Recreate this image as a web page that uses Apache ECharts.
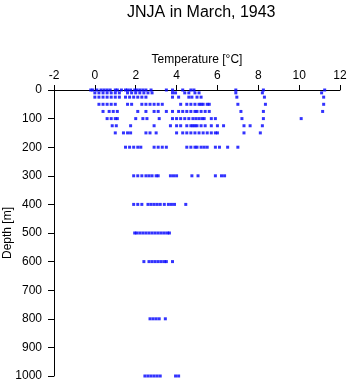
<!DOCTYPE html>
<html>
<head>
<meta charset="utf-8">
<script src="https://cdn.jsdelivr.net/npm/echarts@6/dist/echarts.min.js"></script>
<style>html,body{margin:0;padding:0;background:#fff;}#c{width:348px;height:384px;}</style>
</head>
<body>
<div id="c"></div>
<script>
// Observed temperatures [°C] at each standard depth [m]
const depths = [0, 10, 25, 50, 75, 100, 125, 150, 200, 300, 400, 500, 600, 800, 1000];
const t0    = [-0.2, -0.1, 0.1, 0.3, 0.45, 0.6, 0.75, 1.0, 1.1, 1.3, 1.5, 1.6, 1.75, 1.95, 2.05, 2.2, 2.35, 2.5, 2.75, 3.5, 3.8, 4.3, 4.7, 4.85, 6.9, 8.25, 11.25];
const t10   = [0.0, 0.2, 0.4, 0.6, 0.8, 1.0, 1.2, 1.6, 1.8, 2.0, 2.2, 2.4, 2.6, 2.8, 3.8, 3.95, 4.4, 4.6, 4.9, 5.1, 6.9, 8.2, 11.1];
const t25   = [0.0, 0.2, 0.4, 0.6, 0.8, 1.0, 1.2, 1.5, 1.7, 1.9, 2.1, 2.3, 2.5, 3.8, 4.1, 4.6, 4.75, 5.0, 5.2, 6.95, 8.3, 11.2];
const t50   = [0.2, 0.4, 0.6, 0.8, 1.0, 1.6, 1.8, 2.3, 2.5, 2.7, 2.9, 3.1, 3.3, 4.2, 4.5, 4.7, 4.9, 5.1, 5.2, 5.3, 5.5, 5.6, 7.0, 8.35, 11.2];
const t75   = [0.4, 0.7, 0.9, 1.1, 2.1, 2.5, 2.9, 3.1, 3.5, 3.8, 4.1, 4.3, 4.5, 4.7, 4.9, 5.0, 5.2, 5.4, 5.6, 7.15, 8.25, 11.15];
const t100  = [0.6, 0.8, 1.0, 1.1, 2.0, 2.35, 2.55, 3.15, 3.8, 4.0, 4.2, 4.4, 4.6, 4.8, 4.95, 5.1, 5.25, 5.35, 5.7, 5.9, 7.2, 8.25, 10.1];
const t125  = [0.85, 1.05, 1.75, 2.9, 3.7, 4.0, 4.2, 4.5, 4.7, 4.8, 4.9, 5.0, 5.2, 5.4, 5.7, 6.0, 6.3, 7.3, 7.6, 8.2];
const t150  = [1.0, 1.4, 1.6, 1.75, 2.5, 2.7, 3.0, 4.0, 4.3, 4.5, 4.7, 4.9, 5.1, 5.3, 5.5, 5.7, 5.9, 6.0, 7.3, 8.1];
const t200  = [1.5, 1.7, 1.9, 2.1, 2.25, 2.9, 3.1, 3.3, 3.5, 4.5, 4.7, 4.9, 5.0, 5.2, 5.35, 5.5, 5.9, 6.1, 6.5, 7.0];
const t300  = [1.9, 2.1, 2.3, 2.5, 2.65, 2.8, 3.0, 3.1, 3.7, 3.85, 4.0, 4.75, 5.05, 5.9, 6.2, 6.35];
const t400  = [1.9, 2.1, 2.3, 2.6, 2.75, 2.9, 3.05, 3.2, 3.4, 3.6, 3.75, 3.9, 4.45];
const t500  = [1.95, 2.05, 2.2, 2.35, 2.5, 2.65, 2.8, 2.95, 3.1, 3.25, 3.4, 3.55, 3.65];
const t600  = [2.4, 2.65, 2.8, 2.95, 3.1, 3.25, 3.4, 3.5, 3.8];
const t800  = [2.7, 2.85, 3.0, 3.15, 3.45];
const t1000 = [2.45, 2.6, 2.75, 2.9, 3.05, 3.2, 3.95, 4.1];
const tempTicks = [-2, 0, 2, 4, 6, 8, 10, 12];
const depthTicks = [0, 100, 200, 300, 400, 500, 600, 700, 800, 900, 1000];

const temps = [t0, t10, t25, t50, t75, t100, t125, t150, t200, t300, t400, t500, t600, t800, t1000];
const points = [];
depths.forEach((d, i) => temps[i].forEach(t => points.push([t, d])));

const font = 'Liberation Sans, Arial, sans-serif';
const chart = echarts.init(document.getElementById('c'), null, {renderer: 'canvas'});
chart.setOption({
  animation: false,
  backgroundColor: '#fff',
  title: {
    text: 'JNJA in March, 1943',
    left: 122, top: 0,
    textStyle: {fontFamily: font, fontSize: 16, fontWeight: 'normal', color: '#000'}
  },
  grid: {left: 54, top: 90, right: 8, bottom: 8, containLabel: false, outerBoundsMode: 'none'},
  xAxis: {
    type: 'value', position: 'top',
    min: tempTicks[0], max: tempTicks[tempTicks.length - 1], interval: 2,
    name: 'Temperature [°C]', nameLocation: 'middle', nameGap: 24, nameMoveOverlap: false,
    nameTextStyle: {fontFamily: font, fontSize: 12, color: '#000'},
    axisLine: {show: true, onZero: false, lineStyle: {color: '#000', width: 1}},
    axisTick: {show: true, length: 5, inside: false, lineStyle: {color: '#000'}},
    axisLabel: {fontFamily: font, fontSize: 12, color: '#000', margin: 8},
    splitLine: {show: false}
  },
  yAxis: {
    type: 'value', inverse: true,
    min: depthTicks[0], max: depthTicks[depthTicks.length - 1], interval: 100,
    name: 'Depth [m]', nameLocation: 'middle', nameGap: 40, nameMoveOverlap: false,
    nameTextStyle: {fontFamily: font, fontSize: 12, color: '#000'},
    axisLine: {show: true, onZero: false, lineStyle: {color: '#000', width: 1}},
    axisTick: {show: true, length: 6, inside: false, lineStyle: {color: '#000'}},
    axisLabel: {fontFamily: font, fontSize: 12, color: '#000', margin: 12, formatter: v => String(v)},
    splitLine: {show: false}
  },
  series: [{
    type: 'scatter',
    data: points,
    symbol: 'rect',
    symbolSize: 3,
    itemStyle: {color: '#0000ff'}
  }]
});
</script>
</body>
</html>
